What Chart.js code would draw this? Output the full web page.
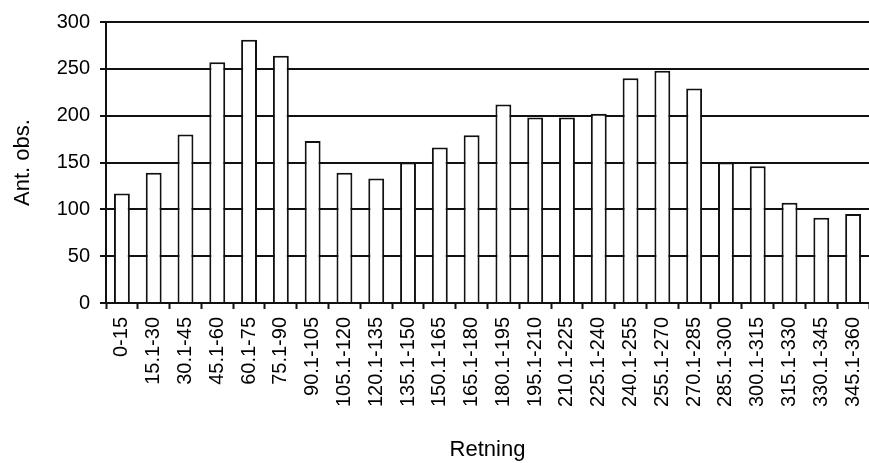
<!DOCTYPE html>
<html>
<head>
<meta charset="utf-8">
<script src="https://cdn.jsdelivr.net/npm/chart.js@4/dist/chart.umd.min.js"></script>
<style>
  html, body { margin: 0; padding: 0; background: #fff; }
  #wrap { width: 869px; height: 463px; }
</style>
</head>
<body>
<div id="wrap"><canvas id="myChart" width="869" height="463"></canvas></div>
<script>
// direction classes (degrees) and number of observations
var retning = ['0-15', '15.1-30', '30.1-45', '45.1-60', '60.1-75', '75.1-90',
  '90.1-105', '105.1-120', '120.1-135', '135.1-150', '150.1-165', '165.1-180',
  '180.1-195', '195.1-210', '210.1-225', '225.1-240', '240.1-255', '255.1-270',
  '270.1-285', '285.1-300', '300.1-315', '315.1-330', '330.1-345', '345.1-360'];
var antObs = [117, 139, 180, 257, 281, 264,
  173, 139, 133, 150, 166, 179,
  212, 198, 198, 202, 240, 248,
  229, 150, 146, 107, 91, 95];
var yTicks = [0, 50, 100, 150, 200, 250, 300];

Chart.defaults.font.family = '"Liberation Sans", Arial, sans-serif';
Chart.defaults.color = '#000';

var data = {
  labels: retning,
  datasets: [{
    label: 'Ant. obs.',
    data: antObs,
    backgroundColor: '#ffffff',
    borderColor: '#111111',
    borderWidth: 2,
    barPercentage: 0.5,
    categoryPercentage: 1.0
  }]
};

var config = {
  type: 'bar',
  data: data,
  options: {
    responsive: false,
    animation: false,
    layout: { padding: { top: 19, right: 0, left: 0, bottom: 0 } },
    plugins: {
      legend: { display: false },
      tooltip: { enabled: false }
    },
    scales: {
      x: {
        grid: {
          drawOnChartArea: false,
          drawTicks: true,
          tickLength: 6,
          tickWidth: 2,
          tickColor: '#111',
          offset: true
        },
        border: { display: true, color: '#111', width: 2 },
        ticks: {
          font: { size: 20 },
          minRotation: 90,
          maxRotation: 90,
          autoSkip: false,
          padding: 8
        },
        title: {
          display: true,
          text: 'Retning',
          font: { size: 22 },
          padding: { top: 0, bottom: 0 }
        },
        afterFit: function (scale) {
          scale.height = 160;
          scale.paddingLeft = 0;
          scale.paddingRight = 0;
        }
      },
      y: {
        min: 0,
        max: 300,
        afterBuildTicks: function (scale) {
          scale.ticks = yTicks.map(function (v) { return { value: v }; });
        },
        grid: {
          color: '#111',
          lineWidth: 2,
          drawTicks: true,
          tickLength: 6,
          tickColor: '#111'
        },
        border: { display: true, color: '#111', width: 2 },
        ticks: {
          font: { size: 20 },
          padding: 10
        },
        title: {
          display: true,
          text: 'Ant. obs.',
          font: { size: 22 },
          padding: { top: 10, bottom: 0 }
        },
        afterFit: function (scale) { scale.width = 106; }
      }
    }
  }
};

var myChart = new Chart(document.getElementById('myChart'), config);
</script>
</body>
</html>
